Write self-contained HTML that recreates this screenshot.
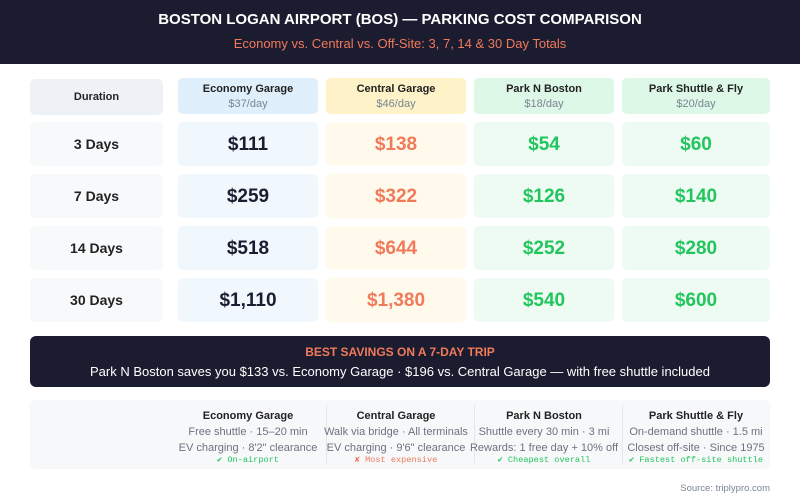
<!DOCTYPE html>
<html><head><meta charset="utf-8"><style>
*{margin:0;padding:0;box-sizing:border-box}
body{width:800px;height:500px;background:#fff;font-family:"Liberation Sans",sans-serif;position:relative;overflow:hidden}
.hd{position:absolute;left:0;top:0;width:800px;height:64px;background:#1c1c30}
.t1{position:absolute;top:11px;width:800px;text-align:center;color:#fff;font-weight:bold;font-size:15px}
.t2{position:absolute;top:36px;width:800px;text-align:center;color:#f07a5a;font-size:13px}
.c{position:absolute;border-radius:5px;display:flex;flex-direction:column;align-items:center;justify-content:center;text-align:center}
.h1{font-weight:bold;font-size:11px;color:#222}
.h2{font-size:11px;color:#7a8494;margin-top:3px}
.d{font-weight:bold;font-size:14px;color:#222}
.p{font-weight:bold;font-size:19px;margin-top:2px}
.ban{position:absolute;left:30px;top:336px;width:740px;height:51px;background:#1c1c30;border-radius:6px;text-align:center}
.nb{position:absolute;left:30px;top:400px;width:740px;height:69px;background:#f7f8fa;border-radius:6px}
.n{position:absolute;top:408px;text-align:center;font-size:11px;color:#6b7380;line-height:16px}
.n b{color:#222;font-size:11px}
.m{display:block;font-family:"Liberation Mono",monospace;font-size:8.6px;line-height:8px;margin-top:0px}
.sep{position:absolute;top:405px;width:1px;height:58px;background:#e3e6ea}
</style></head><body>
<div class="hd"></div>
<div class="t1">BOSTON LOGAN AIRPORT (BOS) — PARKING COST COMPARISON</div>
<div class="t2">Economy vs. Central vs. Off-Site: 3, 7, 14 &amp; 30 Day Totals</div>

<div class="c" style="left:30px;top:79px;width:133px;height:36px;background:#eef2f7"><div class="h1">Duration</div></div>
<div class="c" style="left:178px;top:78px;width:140px;height:36px;background:#dff0fc"><div class="h1">Economy Garage</div><div class="h2">$37/day</div></div>
<div class="c" style="left:326px;top:78px;width:140px;height:36px;background:#fdf2c8"><div class="h1">Central Garage</div><div class="h2">$46/day</div></div>
<div class="c" style="left:474px;top:78px;width:140px;height:36px;background:#ddf8e7"><div class="h1">Park N Boston</div><div class="h2">$18/day</div></div>
<div class="c" style="left:622px;top:78px;width:148px;height:36px;background:#ddf8e7"><div class="h1">Park Shuttle &amp; Fly</div><div class="h2">$20/day</div></div>

<div id="rows"></div>
<script>
var data=[["3 Days","$111","$138","$54","$60"],["7 Days","$259","$322","$126","$140"],["14 Days","$518","$644","$252","$280"],["30 Days","$1,110","$1,380","$540","$600"]];
var xs=[[30,133,"#f8f9fb","#222"],[178,140,"#f0f7fd","#1c1c30"],[326,140,"#fffaeb","#f07a5a"],[474,140,"#eefbf2","#22c55e"],[622,148,"#eefbf2","#22c55e"]];
var h="";
data.forEach(function(r,i){var y=122+i*52;r.forEach(function(v,j){h+='<div class="c" style="left:'+xs[j][0]+'px;top:'+y+'px;width:'+xs[j][1]+'px;height:44px;background:'+xs[j][2]+'"><div class="'+(j?'p':'d')+'" style="color:'+xs[j][3]+'">'+v+'</div></div>';});});
document.getElementById("rows").innerHTML=h;
</script>

<div class="ban">
<div style="color:#f07a5a;font-weight:bold;font-size:12px;margin-top:9px">BEST SAVINGS ON A 7-DAY TRIP</div>
<div style="color:#fff;font-size:13px;margin-top:5px">Park N Boston saves you $133 vs. Economy Garage · $196 vs. Central Garage — with free shuttle included</div>
</div>

<div class="nb"></div>
<div class="sep" style="left:326px"></div><div class="sep" style="left:474px"></div><div class="sep" style="left:622px"></div>
<div class="n" style="left:174px;width:148px"><b>Economy Garage</b><br>Free shuttle · 15–20 min<br>EV charging · 8'2" clearance<span class="m" style="color:#22c55e">✔ On-airport</span></div>
<div class="n" style="left:322px;width:148px"><b>Central Garage</b><br>Walk via bridge · All terminals<br>EV charging · 9'6" clearance<span class="m" style="color:#f07a5a">✘ Most expensive</span></div>
<div class="n" style="left:468px;width:152px"><b>Park N Boston</b><br>Shuttle every 30 min · 3 mi<br>Rewards: 1 free day + 10% off<span class="m" style="color:#22c55e">✔ Cheapest overall</span></div>
<div class="n" style="left:620px;width:152px"><b>Park Shuttle &amp; Fly</b><br>On-demand shuttle · 1.5 mi<br>Closest off-site · Since 1975<span class="m" style="color:#22c55e">✔ Fastest off-site shuttle</span></div>

<div style="position:absolute;right:30px;top:483px;font-size:9.5px;color:#7a8494">Source: triplypro.com</div>
</body></html>
